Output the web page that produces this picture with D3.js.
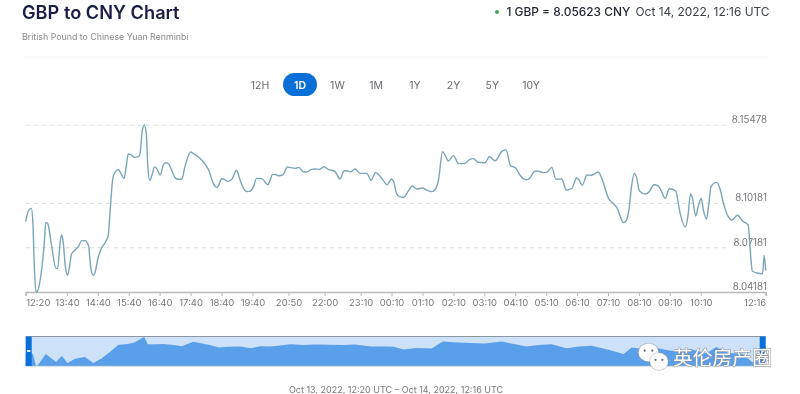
<!DOCTYPE html>
<html><head><meta charset="utf-8">
<script src="https://cdn.jsdelivr.net/npm/d3@7"></script>
<style>html,body{margin:0;padding:0;background:#fff;overflow:hidden}svg{display:block;filter:blur(.35px)}text{font-family:Inter,"Liberation Sans",sans-serif}</style>
</head><body><svg id="c" width="800" height="394"></svg>
<script>
const minutes = [0,5,11,14,17,20,23,30,36,39,43,50,59,62,67,70,73,77,81,85,89,96,102,109,115,122,126,131,134,141,147,154,160,164,169,173,180,184,191,195,199,204,211,219,222,226,230,234,237,241,245,250,254,261,267,272,278,283,290,296,303,309,320,325,338,346,355,364,371,375,380,385,392,400,409,416,424,430,437,442,448,455,461,
470,474,479,484,490,499,508,514,523,530,539,545,555,562,570,579,587,600,610,618,624,631,639,649,662,670,679,686,694,701,710,714,720,726,733,743,750,759,770,778,788,794,801,809,814,820,830,840,851,862,869,878,891,900,911,924,932,941,950,959,966,972,979,
988,995,1005,1011,1021,1029,1040,1049,1060,1069,1074,1080,1089,1098,1111,1118,1131,1140,1148,1160,1164,1171,1176,1181,1185,1191,1202,1210,1219,1228,1234,1241,1249,1261,1270,1280,1285,1290,1294,1300,1305,1311,1315,1321,1325,1330,1340,1347,1354,1364,1370,1381,1391,1402,1406,1410,1419,1430,1433,1436];
const rates = [8.0895,8.0967,8.0985,8.0883,8.0567,8.0418,8.0425,8.0545,8.0748,8.0890,8.0879,8.0737,8.0578,8.0578,8.0759,8.0807,8.0748,8.0590,8.0533,8.0590,8.0676,8.0703,8.0725,8.0766,8.0766,8.0730,8.0590,8.0531,8.0545,8.0657,8.0714,8.0752,8.0798,8.0974,8.1188,8.1227,8.1249,8.1227,8.1188,8.1267,8.1353,8.1349,8.1331,8.1335,8.1358,8.1505,8.15478,8.1493,8.1267,8.1173,8.1211,8.1265,8.1256,8.1211,8.1279,8.1294,8.1283,8.1245,8.1193,8.1182,8.1184,8.1267,8.1367,8.1358,8.1324,8.1294,8.1245,8.1154,8.1127,8.1143,8.1186,8.1182,8.1168,8.1182,8.1243,8.1177,8.1114,8.1098,8.1105,8.1132,8.1188,8.1188,8.1179,
8.1145,8.1173,8.1215,8.1215,8.1206,8.1211,8.1265,8.1261,8.1256,8.1263,8.1233,8.1231,8.1249,8.1252,8.1249,8.1267,8.1249,8.1236,8.1184,8.1240,8.1238,8.1233,8.1252,8.1222,8.1222,8.1175,8.1227,8.1209,8.1173,8.1145,8.1184,8.1166,8.1082,8.1064,8.1060,8.1105,8.1136,8.1116,8.1123,8.1109,8.1098,8.1109,8.1177,8.1369,8.1346,8.1306,8.1342,8.1288,8.1288,8.1317,8.1322,8.1297,8.1294,8.1335,8.1308,8.1371,8.1383,8.1272,8.1261,8.1211,8.1184,8.1179,8.1193,
8.1236,8.1236,8.1227,8.1229,8.1263,8.1182,8.1184,8.1109,8.1121,8.1191,8.1177,8.1141,8.1211,8.1209,8.1231,8.1188,8.1053,8.1019,8.0985,8.0888,8.0895,8.0985,8.1143,8.1222,8.1200,8.1102,8.1082,8.1098,8.1145,8.1136,8.1098,8.1053,8.1118,8.1105,8.0951,8.0856,8.0929,8.1082,8.1053,8.0933,8.0996,8.1053,8.0974,8.0913,8.0996,8.1132,8.1161,8.1121,8.1019,8.0924,8.0904,8.0938,8.0899,8.0872,8.0703,8.0560,8.0547,8.0542,8.0666,8.05623];
const tickMinutes = [0,80,140,200,260,320,380,440,510,580,650,710,770,830,890,950,1010,1070,1130,1190,1250,1310,1436];
const tickLabels = ["12:20","13:40","14:40","15:40","16:40","17:40","18:40","19:40","20:50","22:00","23:10","00:10","01:10","02:10","03:10","04:10","05:10","06:10","07:10","08:10","09:10","10:10","12:16"];
const yTicks = [8.04181,8.07181,8.10181,8.15478];
const ranges = ["12H","1D","1W","1M","1Y","2Y","5Y","10Y"];
const activeRange = "1D";

const svg = d3.select("#c");
const x = d3.scaleLinear().domain([0,1436]).range([25.7,765.7]);
const y = d3.scaleLinear().domain([8.04181,8.15478]).range([292,125.3]);
const yNav = d3.scaleLinear().domain([8.04181,8.15478]).range([366,337]);
const pts = minutes.map((m,i)=>[m,rates[i]]);
const hi = d3.max(rates), lo = d3.min(rates);
const navPts = pts.filter((d,i)=>i%3===0||d[1]===hi||d[1]===lo||i===pts.length-1);

// header
svg.append("text").attr("x",22).attr("y",19).attr("font-size",18.2).attr("font-weight",600).attr("fill","#1a1d45").text("GBP to CNY Chart");
svg.append("text").attr("x",22).attr("y",40).attr("font-size",8.8).attr("fill","#8a8a8f").text("British Pound to Chinese Yuan Renminbi");
svg.append("circle").attr("cx",497).attr("cy",12).attr("r",2).attr("fill","#4e9f5b");
svg.append("text").attr("x",506.5).attr("y",15.5).attr("font-size",11.9).attr("font-weight",500).attr("fill","#1f2433").text("1 GBP = 8.05623 CNY");
svg.append("text").attr("x",769.5).attr("y",15.5).attr("text-anchor","end").attr("font-size",11.9).attr("fill","#3c4048").text("Oct 14, 2022, 12:16 UTC");
svg.append("line").attr("x1",22).attr("x2",770).attr("y1",57).attr("y2",57).attr("stroke","#f6f6f6");

// range tabs
const tabX = d3.scalePoint().domain(ranges).range([260,531]);
const tab = svg.append("g").selectAll("g").data(ranges).join("g").attr("transform",d=>`translate(${tabX(d)+(d===activeRange?1.3:0)},84.5)`);
tab.filter(d=>d===activeRange).append("rect").attr("x",-17).attr("y",-11.5).attr("width",34).attr("height",23).attr("rx",11.5).attr("fill","#0b6fd8");
tab.append("text").attr("y",4).attr("text-anchor","middle").attr("font-size",10.5)
  .attr("fill",d=>d===activeRange?"#fff":"#6a6a70").attr("font-weight",d=>d===activeRange?600:400).text(d=>d);

// grid
svg.append("g").selectAll("line").data(yTicks.slice(1)).join("line")
  .attr("x1",25.7).attr("x2",728).attr("y1",d=>y(d)).attr("y2",d=>y(d))
  .attr("stroke","#dcdcdc").attr("stroke-dasharray","4 4");

// y labels
svg.append("g").selectAll("text").data(yTicks).join("text")
  .attr("x",767).attr("y",d=>y(d)-2.2).attr("text-anchor","end").attr("font-size",9.7).attr("fill","#77777c")
  .text(d=>d.toFixed(5));

// x axis
const ax = svg.append("g").attr("transform","translate(0,292)")
  .call(d3.axisBottom(x).tickValues(tickMinutes).tickSize(4).tickPadding(3).tickFormat((d,i)=>tickLabels[i]));
ax.select(".domain").attr("stroke","#b9b9b9").attr("stroke-width",1.5);
ax.selectAll(".tick line").attr("stroke","#b9b9b9");
ax.selectAll(".tick text").attr("font-size",9.5).attr("fill","#77777c").attr("font-family","Inter,'Liberation Sans',sans-serif");
ax.selectAll(".tick text").filter((d,i)=>i===0).attr("text-anchor","start");
ax.selectAll(".tick text").filter((d,i)=>i===tickMinutes.length-1).attr("text-anchor","end");

// line
svg.append("path").datum(pts).attr("fill","none").attr("stroke","#7ba5b9").attr("stroke-width",1.4)
  .attr("d",d3.line().x(d=>x(d[0])).y(d=>y(d[1])).curve(d3.curveMonotoneX));

// navigator
svg.append("rect").attr("x",25.7).attr("y",336.5).attr("width",740).attr("height",29.5).attr("fill","#cde1f9");
svg.append("path").datum(navPts).attr("fill","#5a9fea")
  .attr("d",d3.area().x(d=>x(d[0])).y0(366).y1(d=>yNav(d[1])));
svg.append("line").attr("x1",25.7).attr("x2",765.7).attr("y1",336.5).attr("y2",336.5).attr("stroke","#8d97a3").attr("stroke-width",1);
svg.append("line").attr("x1",25.7).attr("x2",765.7).attr("y1",366).attr("y2",366).attr("stroke","#9fb4c9").attr("stroke-width",.8);
[25.7,759.7].forEach(hx=>{
  svg.append("rect").attr("x",hx).attr("y",336.5).attr("width",6).attr("height",29.5).attr("fill","#0b6fd8");
  svg.append("rect").attr("x",hx+1.3).attr("y",350).attr("width",3.4).attr("height",2).attr("fill","#dfeaf7");
});

svg.append("text").attr("x",396).attr("y",392.5).attr("text-anchor","middle").attr("font-size",9).attr("fill","#77777c").text("Oct 13, 2022, 12:20 UTC – Oct 14, 2022, 12:16 UTC");

// watermark
const wm = svg.append("g");
const bubble = (cx,cy,rx,ry,eye)=>{
  wm.append("ellipse").attr("cx",cx).attr("cy",cy).attr("rx",rx+.8).attr("ry",ry+.8).attr("fill","#9a9a9a").attr("opacity",.55);
  wm.append("ellipse").attr("cx",cx).attr("cy",cy).attr("rx",rx).attr("ry",ry).attr("fill","#fff");
  [-1,1].forEach(s=>wm.append("circle").attr("cx",cx+s*rx*.38).attr("cy",cy-ry*.2).attr("r",1.1).attr("fill",eye));
};
bubble(648.5,352.5,10,9,"#666");
bubble(659,361.5,9,8.5,"#666");
wm.append("text").attr("x",673).attr("y",364.5).attr("font-size",19.8)
  .attr("style","font-family:'Noto Sans CJK SC',sans-serif").attr("fill","#fff")
  .attr("stroke","#8a8f96").attr("stroke-width",1).attr("paint-order","stroke").text("英伦房产圈");
</script></body></html>
